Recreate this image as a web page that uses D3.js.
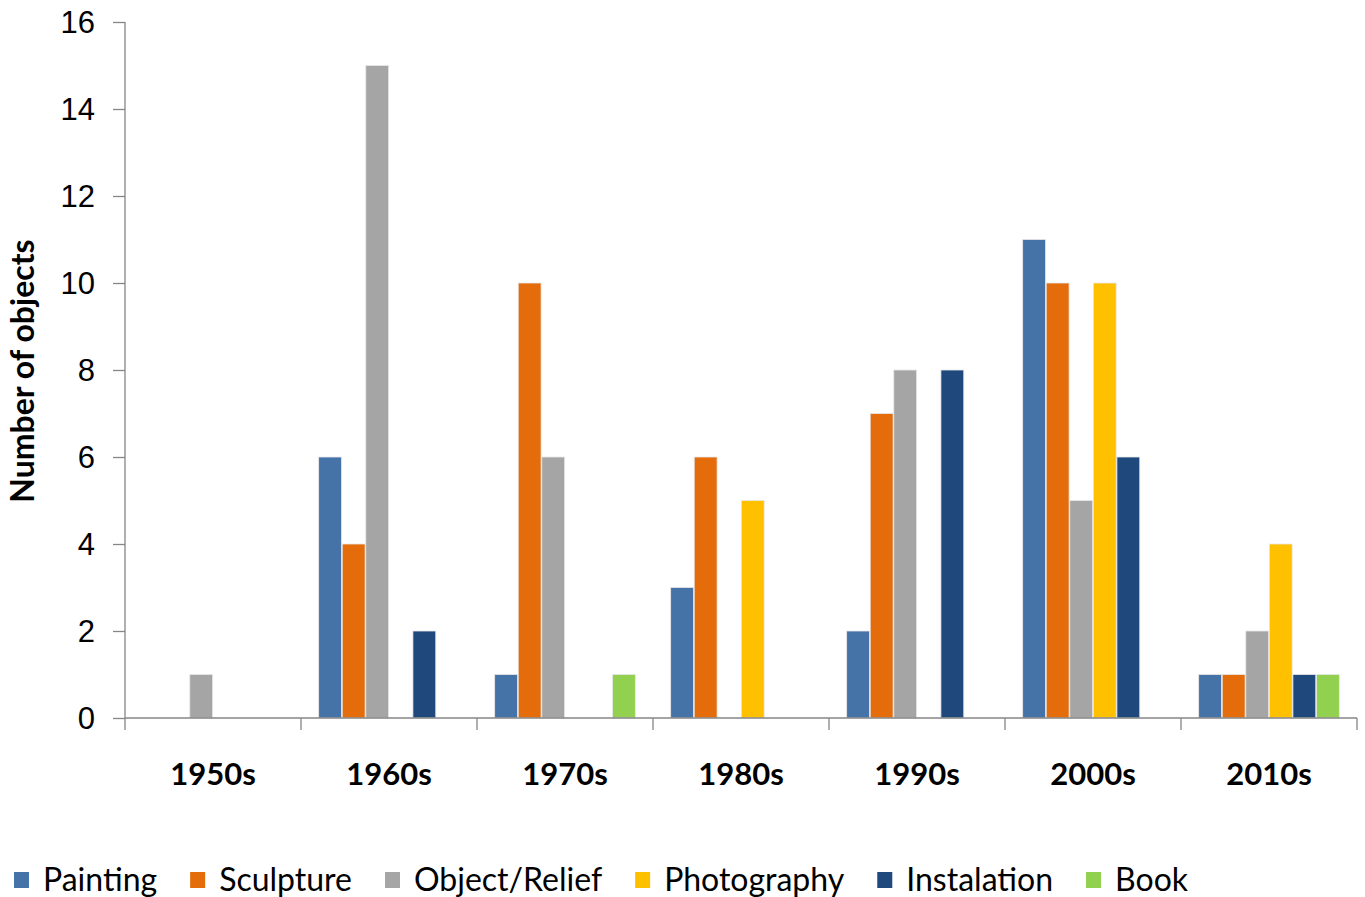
<!DOCTYPE html>
<html>
<head>
<meta charset="utf-8">
<script src="https://cdn.jsdelivr.net/npm/d3@7"></script>
<style>
  html, body { margin: 0; padding: 0; background: #fff; }
  svg { display: block; font-family: Lato, "Open Sans", sans-serif; }
</style>
</head>
<body>
<svg id="chart" width="1365" height="897"></svg>
<script>
// Objects per decade, by medium
const decades = ["1950s", "1960s", "1970s", "1980s", "1990s", "2000s", "2010s"];
const seriesNames = ["Painting", "Sculpture", "Object/Relief", "Photography", "Instalation", "Book"];
const painting    = [0, 6, 1, 3, 2, 11, 1];
const sculpture   = [0, 4, 10, 6, 7, 10, 1];
const objectRelief= [1, 15, 6, 0, 8, 5, 2];
const photography = [0, 0, 0, 5, 0, 10, 4];
const instalation = [0, 2, 0, 0, 8, 6, 1];
const book        = [0, 0, 1, 0, 0, 0, 1];
const yTicks = [0, 2, 4, 6, 8, 10, 12, 14, 16];
const colors = ["#4572A7", "#E46C0A", "#A5A5A5", "#FFC000", "#1F497D", "#92D050"];

const seriesValues = [painting, sculpture, objectRelief, photography, instalation, book];

const svg = d3.select("#chart");
const plotLeft = 125, plotRight = 1357, plotTop = 22, plotBottom = 718;

const x = d3.scaleBand().domain(decades).range([plotLeft, plotRight]).paddingInner(0).paddingOuter(0);
const xi = d3.scaleBand().domain(seriesNames).range([0, x.bandwidth()]).paddingOuter(0.75).paddingInner(0.03);
const y = d3.scaleLinear().domain([0, 16]).range([plotBottom, plotTop]);

const axisColor = "#868686";

// Bars
const groups = svg.append("g").selectAll("g")
  .data(decades)
  .join("g")
  .attr("transform", d => `translate(${x(d)},0)`);

groups.selectAll("rect")
  .data((d, i) => seriesNames.map((s, k) => ({ s, k, v: seriesValues[k][i] })).filter(e => e.v > 0))
  .join("rect")
  .attr("x", d => xi(d.s))
  .attr("width", xi.bandwidth())
  .attr("y", d => y(d.v))
  .attr("height", d => y(0) - y(d.v))
  .attr("fill", d => colors[d.k])
  .attr("stroke", "#e8e8e8")
  .attr("stroke-width", 0.8);

// Y axis
const yAxis = d3.axisLeft(y).tickValues(yTicks).tickSize(12).tickPadding(18);
const gy = svg.append("g").attr("transform", `translate(${plotLeft},0)`).call(yAxis);
gy.select(".domain").attr("stroke", axisColor).attr("stroke-width", 1.3).attr("d", `M0,${plotTop}V${plotBottom}`);
gy.selectAll(".tick line").attr("stroke", axisColor).attr("stroke-width", 1.3);
gy.selectAll(".tick text").attr("fill", "#000").style("font-size", "31px").attr("dy", "0.35em");

// X axis with boundary ticks between decades
const gx = svg.append("g");
gx.append("line").attr("x1", plotLeft).attr("x2", plotRight).attr("y1", plotBottom).attr("y2", plotBottom)
  .attr("stroke", axisColor).attr("stroke-width", 1.3);
const bounds = decades.map(d => x(d)).concat([x(decades[decades.length - 1]) + x.bandwidth()]);
gx.selectAll("line.b").data(bounds).join("line").attr("class", "b")
  .attr("x1", d => d).attr("x2", d => d).attr("y1", plotBottom).attr("y2", plotBottom + 12)
  .attr("stroke", axisColor).attr("stroke-width", 1.3);
gx.selectAll("text").data(decades).join("text")
  .attr("x", d => x(d) + x.bandwidth() / 2)
  .attr("y", 785)
  .attr("text-anchor", "middle")
  .style("font-size", "31px").style("font-weight", "bold")
  .text(d => d);

// Y axis title
svg.append("text")
  .attr("transform", `translate(34,371) rotate(-90)`)
  .attr("text-anchor", "middle")
  .style("font-size", "32px").style("font-weight", "bold")
  .text("Number of objects");

// Legend
const legend = svg.append("g").attr("transform", "translate(14,0)");
let lx = 0;
seriesNames.forEach((s, k) => {
  const g = legend.append("g").attr("transform", `translate(${lx},0)`);
  g.append("rect").attr("x", 0).attr("y", 872).attr("width", 15).attr("height", 16).attr("fill", colors[k]);
  const t = g.append("text").attr("x", 29).attr("y", 891).style("font-size", "32px").text(s);
  lx += 29 + t.node().getComputedTextLength() + 33;
});
</script>
</body>
</html>
